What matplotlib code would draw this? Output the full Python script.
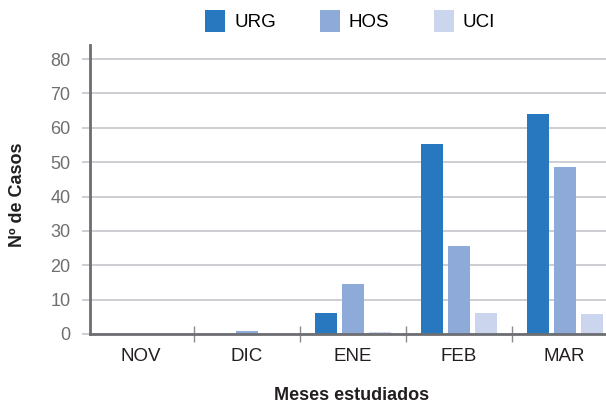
import numpy as np
import matplotlib
matplotlib.use("Agg")
import matplotlib.pyplot as plt

# Datos
meses = ["NOV", "DIC", "ENE", "FEB", "MAR"]
urg = [0, 0, 6.2, 55.3, 64]
hos = [0, 1.0, 14.6, 25.7, 48.5]
uci = [0, 0, 0.5, 6.2, 5.9]
series = ["URG", "HOS", "UCI"]
colores = ["#2878c0", "#8eaad8", "#cbd6ee"]

plt.rcParams["font.family"] = ["Liberation Sans", "DejaVu Sans"]

fig = plt.figure(figsize=(6.06, 4.03), dpi=100)
ax = fig.add_axes([90 / 606, 69 / 403, 1 - 90 / 606, (334 - 45) / 403])

x = np.arange(len(meses))
ancho = 0.21
paso = 0.255
for k, (nombre, vals, col) in enumerate(zip(series, [urg, hos, uci], colores)):
    ax.bar(x + (k - 1) * paso, vals, width=ancho, color=col, label=nombre, zorder=3)

ax.set_xlim(-0.48, 4.39)
ax.set_ylim(0, 84.1)
ax.set_yticks(np.arange(0, 81, 10))
ax.set_xticks(x)
ax.set_xticklabels(meses)
ax.set_xticks(x[:-1] + 0.5, minor=True)

ax.grid(True, axis="y", color="#bfc1c6", lw=1.1, zorder=0)
ax.tick_params(axis="y", length=6, width=1.1, color="#bfc1c6", labelsize=13,
               labelcolor="#6f6f6f", pad=8)
ax.tick_params(axis="x", which="major", length=0, labelsize=13.5,
               labelcolor="#231f20", pad=10)
ax.tick_params(axis="x", which="minor", direction="inout", length=12, width=1,
               color="#8a8b8d")

for lado in ["top", "right"]:
    ax.spines[lado].set_visible(False)
for lado in ["left", "bottom"]:
    ax.spines[lado].set_color("#6d6e71")
    ax.spines[lado].set_linewidth(2)
    ax.spines[lado].set_zorder(4)

fig.text(352 / 606, 1 - 396 / 403, "Meses estudiados", ha="center", va="center",
         fontsize=13, fontweight="bold", color="#231f20")
fig.text(18 / 606, 1 - 195 / 403, "Nº de Casos", ha="center", va="center",
         rotation=90, fontsize=13, fontweight="bold", color="#231f20")

fig.legend(loc="center", bbox_to_anchor=(350 / 606, 1 - 21 / 403), ncol=3,
           frameon=False, fontsize=13.5, handlelength=1.07, handleheight=1.5,
           handletextpad=0.48, columnspacing=2.35, borderaxespad=0)

fig.savefig("out.png", dpi=100)
